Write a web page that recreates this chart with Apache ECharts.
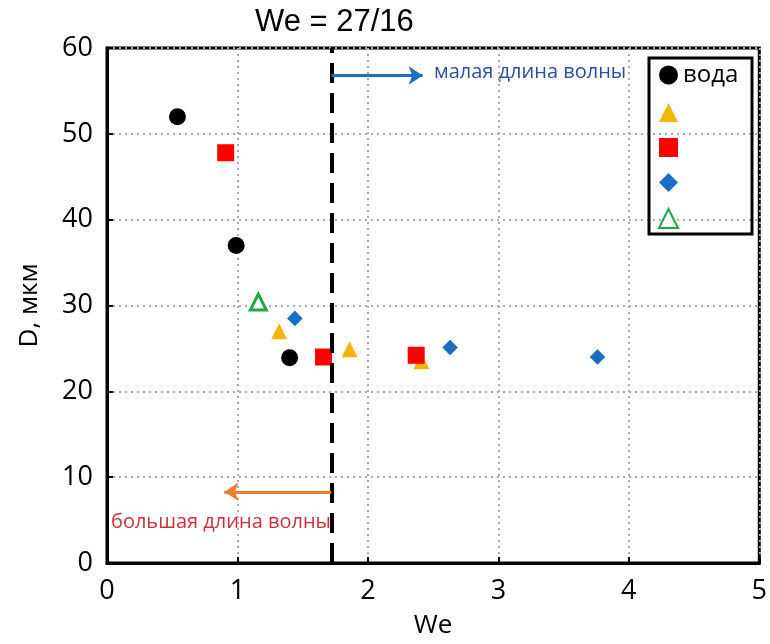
<!DOCTYPE html>
<html>
<head>
<meta charset="utf-8">
<script src="https://cdn.jsdelivr.net/npm/echarts@6/dist/echarts.min.js"></script>
<style>
  html, body { margin: 0; padding: 0; background: #fff; }
  #chart { width: 770px; height: 644px; }
</style>
</head>
<body>
<div id="chart"></div>
<script>
// data
const water = [[0.54, 52.0], [0.99, 37.0], [1.40, 23.9]];
const yellowTri = [[1.32, 27.0], [1.86, 24.9], [2.41, 23.5]];
const redSquare = [[0.91, 47.8], [1.66, 24.0], [2.37, 24.2]];
const blueDiamond = [[1.44, 28.5], [2.63, 25.1], [3.76, 24.0]];
const greenTri = [[1.16, 30.4]];
const weCritical = 1.72; // We = 27/16, as drawn
const xTicks = [0, 1, 2, 3, 4, 5];
const yTicks = [0, 10, 20, 30, 40, 50, 60];

const titleFont = "Liberation Sans, Arial, sans-serif";
const font = "Open Sans, Noto Sans, sans-serif";

const diamondIcon = "path://M5,0L10,5L5,10L0,5Z";

const chart = echarts.init(document.getElementById("chart"));

const option = {
  animation: false,
  title: {
    text: "We = 27/16",
    left: 250,
    top: 2,
    textStyle: { fontFamily: titleFont, fontSize: 31, fontWeight: "normal", color: "#000" },
  },
  grid: {
    left: 107,
    right: 6,
    top: 48,
    bottom: 79,
    show: true,
    borderColor: "#000",
    borderWidth: 3,
  },
  xAxis: {
    type: "value",
    min: xTicks[0],
    max: xTicks[xTicks.length - 1],
    interval: 1,
    name: "We",
    nameLocation: "middle",
    nameGap: 50,
    nameTextStyle: { fontFamily: font, fontSize: 26, color: "#000" },
    axisLine: { lineStyle: { color: "#000", width: 3 } },
    axisTick: { inside: true, length: 6, lineStyle: { color: "#000", width: 2 } },
    axisLabel: { fontFamily: font, fontSize: 27, color: "#000", margin: 15 },
    splitLine: { lineStyle: { type: [2, 4], color: "#aaa", width: 2 } },
  },
  yAxis: {
    type: "value",
    min: yTicks[0],
    max: yTicks[yTicks.length - 1],
    interval: 10,
    name: "D, мкм",
    nameLocation: "middle",
    nameGap: 64,
    nameTextStyle: { fontFamily: font, fontSize: 26, color: "#000" },
    axisLine: { lineStyle: { color: "#000", width: 3 } },
    axisTick: { inside: true, length: 6, lineStyle: { color: "#000", width: 2 } },
    axisLabel: { fontFamily: font, fontSize: 27, color: "#000", margin: 14 },
    splitLine: { lineStyle: { type: [2, 4], color: "#aaa", width: 2 } },
  },
  legend: {
    orient: "vertical",
    left: 658,
    top: 63,
    itemWidth: 19,
    itemHeight: 19,
    itemGap: 16,
    padding: 0,
    textStyle: { fontFamily: font, fontSize: 24, color: "#000" },
    formatter: (name) => (name === "вода" ? name : ""),
    data: ["вода", "s2", "s3", { name: "s4", icon: diamondIcon }, "s5"],
  },
  graphic: [
    {
      type: "rect",
      shape: { x: 649, y: 58, width: 103, height: 176 },
      style: { fill: "none", stroke: "#000", lineWidth: 3 },
      z: 10,
    },
    {
      type: "text",
      left: 434,
      top: 62,
      style: { text: "малая длина волны", font: "20px " + font, fill: "#2b4f9e" },
    },
    {
      type: "text",
      left: 111,
      top: 512,
      style: { text: "большая длина волны", font: "20px " + font, fill: "#c8323c" },
    },
  ],
  series: [
    {
      name: "вода",
      type: "scatter",
      symbol: "circle",
      symbolSize: 17,
      itemStyle: { color: "#000", opacity: 1 },
      data: water,
      z: 3,
      markLine: {
        silent: true,
        symbol: "none",
        label: { show: false },
        lineStyle: { color: "#000", width: 4, type: [20, 10] },
        data: [{ xAxis: weCritical }],
      },
    },
    {
      name: "s2",
      type: "scatter",
      symbol: "triangle",
      symbolSize: 16,
      itemStyle: { color: "#f7b500", opacity: 1 },
      data: yellowTri,
      z: 3,
      markLine: {
        silent: true,
        symbol: ["none", "arrow"],
        symbolSize: [14, 14],
        label: { show: false },
        data: [
          [
            { coord: [weCritical, 56.8], lineStyle: { color: "#1f6fc0", width: 3, type: "solid" } },
            { coord: [2.42, 56.8] },
          ],
          [
            { coord: [weCritical, 8.3], lineStyle: { color: "#ee7d31", width: 3, type: "solid" } },
            { coord: [0.9, 8.3] },
          ],
        ],
      },
    },
    {
      name: "s3",
      type: "scatter",
      symbol: "rect",
      symbolSize: 17,
      itemStyle: { color: "#ff0000", opacity: 1 },
      data: redSquare,
      z: 4,
    },
    {
      name: "s4",
      type: "scatter",
      symbol: "rect",
      symbolRotate: 45,
      symbolSize: 11,
      itemStyle: { color: "#1a6fc4", opacity: 1 },
      data: blueDiamond,
      z: 4,
    },
    {
      name: "s5",
      type: "scatter",
      symbol: "triangle",
      symbolSize: 16,
      itemStyle: { color: "#fff", borderColor: "#1aa84b", borderWidth: 3, opacity: 1 },
      data: greenTri,
      z: 4,
    },
  ],
};

chart.setOption(option);
</script>
</body>
</html>
